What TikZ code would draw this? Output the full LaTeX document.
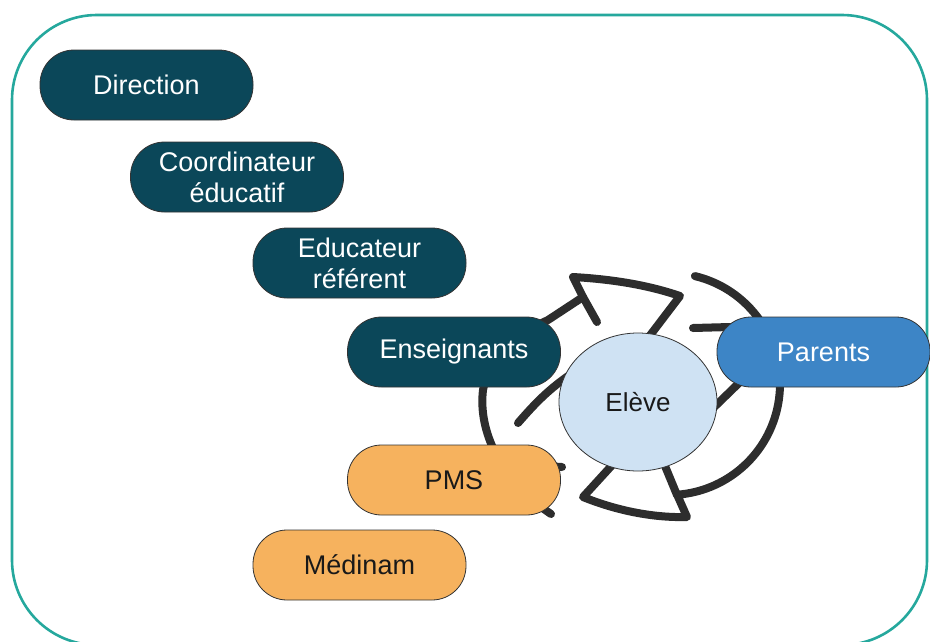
\documentclass[tikz,border=0pt]{standalone}
\usepackage{fontspec}
\setmainfont{Liberation Sans}
\usetikzlibrary{shapes.geometric}
\definecolor{darkteal}{HTML}{0B4759}
\definecolor{pblue}{HTML}{3D85C6}
\definecolor{porange}{HTML}{F6B25E}
\definecolor{plight}{HTML}{CFE2F3}
\definecolor{frameteal}{HTML}{25A89D}
\definecolor{arrgray}{HTML}{2D2D2D}
\tikzset{
  pill/.style={draw=black!80, line width=0.8pt, rounded corners=34pt,
    minimum width=213pt, minimum height=70pt, inner sep=0pt, align=center,
    font=\fontsize{27}{31}\selectfont},
  darkpill/.style={pill, fill=darkteal, text=white},
  bluepill/.style={pill, fill=pblue, text=white},
  orangepill/.style={pill, fill=porange, text=black!90},
  arr/.style={draw=arrgray, line width=8pt, line cap=round, line join=round},
}
\begin{document}
\begin{tikzpicture}[x=1pt,y=-1pt]
\useasboundingbox (0,0) rectangle (930,641);
% frame
\draw[frameteal, line width=2.6pt, rounded corners=85pt] (12,15) rectangle (927,645);
% cycle arrow A (upper left)
\draw[arr] (551,514) .. controls (500,480) and (478,430) .. (483,390)
  .. controls (490,355) and (520,333) .. (548,320) -- (583,297) -- (573,277)
  .. controls (608,279) and (645,284) .. (680,296) -- (645,342);
\draw[arr] (583,297) -- (597,322);
\draw[arr] (518,423) .. controls (538,400) and (552,386) .. (580,368);
% cycle arrow B (right / bottom)
\draw[arr] (669,384) ++(283.5:111) arc[start angle=283.5, end angle=445.8, radius=111]
  -- (687,517) .. controls (652,518) and (615,510) .. (583,497) -- (615,462);
\draw[arr] (677,495) -- (665,466);
\draw[arr] (693,328) -- (730,327) .. controls (770,330) and (772,365) .. (740,382) -- (705,416);
\draw[arr] (545,466) -- (562,467);
% nodes
\node[darkpill] (dir) at (146.5,85) {Direction};
\node[darkpill] (coord) at (237,177) {Coordinateur\\éducatif};
\node[darkpill] (educ) at (359.5,263) {Educateur\\référent};
\node[darkpill] (ens) at (454,352) {Enseignants};
\node[bluepill] (par) at (823.5,352) {Parents};
\node[orangepill] (pms) at (454,480) {PMS};
\node[orangepill] (med) at (359.5,565) {Médinam};
\node[ellipse, draw=black!80, line width=0.8pt, fill=plight, minimum width=158pt,
  minimum height=138pt, inner sep=0pt, text=black!90,
  font=\fontsize{26}{31}\selectfont] (eleve) at (638,402) {Elève};
\end{tikzpicture}
\end{document}
